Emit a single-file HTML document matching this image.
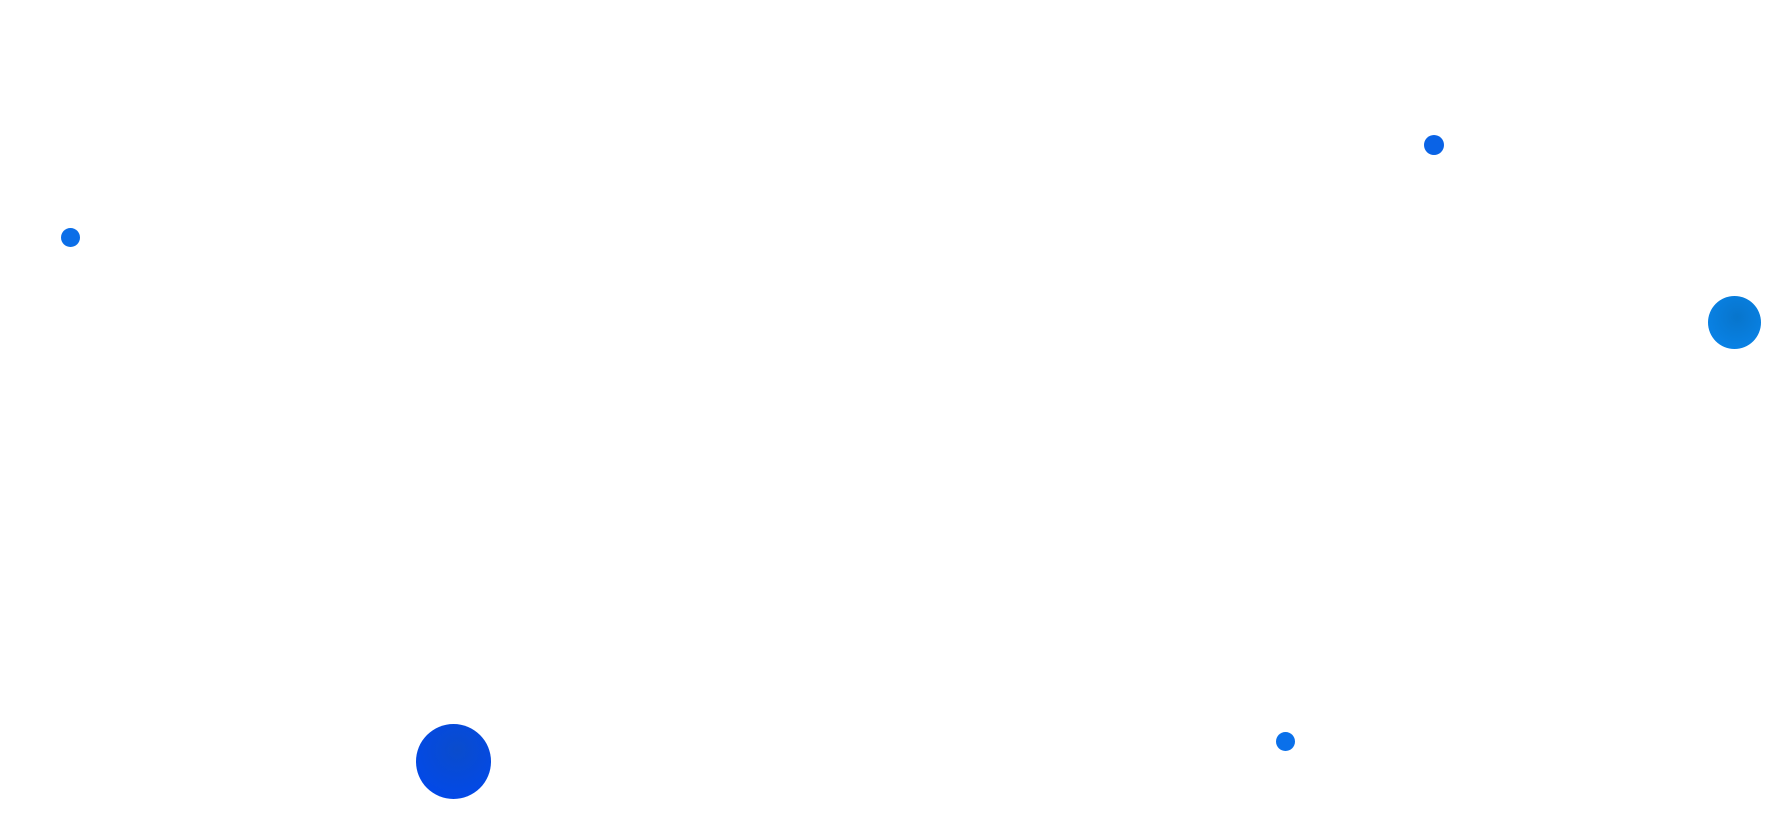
<!DOCTYPE html>
<html><head><meta charset="utf-8"><style>
html,body{margin:0;padding:0;background:#fff;width:1785px;height:821px;overflow:hidden;position:relative}
.d{position:absolute;border-radius:50%}
</style></head><body>
<div class="d" style="left:1424px;top:135px;width:20px;height:20px;background:#0a63e6"></div>
<div class="d" style="left:61px;top:228px;width:19px;height:19px;background:#0b6ee8"></div>
<div class="d" style="left:1708px;top:296px;width:53px;height:53px;background:radial-gradient(circle at 55% 40%,#0775cc,#0a86ee)"></div>
<div class="d" style="left:1276px;top:732px;width:19px;height:19px;background:#0a70ea"></div>
<div class="d" style="left:416px;top:724px;width:75px;height:75px;background:radial-gradient(circle at 55% 35%,#0a4ccc,#0048f0)"></div>
</body></html>
